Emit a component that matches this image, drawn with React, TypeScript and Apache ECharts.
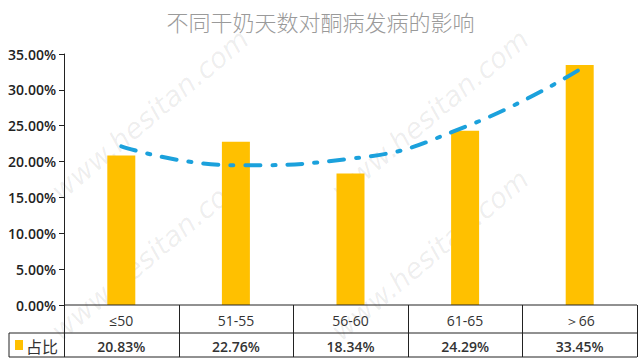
import { useEffect, useRef } from "react";
import * as echarts from "echarts";

const titleText = "不同干奶天数对酮病发病的影响";
const categories = ["≤50", "51-55", "56-60", "61-65", "＞66"];
const seriesName = "占比";
const values = [20.83, 22.76, 18.34, 24.29, 33.45];
const trendValues = [22.13, 19.48, 20.39, 24.84, 32.84];
const yMax = 35;
const yInterval = 5;
const watermark = "www.hesitan.com";

const W = 641;
const H = 364;
const GL = 64;
const GR = 637;
const GT = 54;
const GB = 305;
const ROW_MID = 333;
const ROW_BOT = 357;
const TABLE_LEFT = 9;

export default function App() {
  const ref = useRef<HTMLDivElement>(null);
  useEffect(() => {
    if (!ref.current) return;
    const chart = echarts.init(ref.current, undefined, { renderer: "svg" });
    const colW = (GR - GL) / categories.length;
    const lineStyle = { stroke: "#222", lineWidth: 1 };
    const graphics: any[] = [];
    // watermarks
    const wmPos = [
      [150, 115],
      [430, 115],
      [150, 255],
      [430, 255],
    ];
    wmPos.forEach(([x, y]) => {
      graphics.push({
        type: "text",
        x,
        y,
        rotation: Math.PI / 4.5,
        z: 0,
        silent: true,
        style: {
          text: watermark,
          fill: "rgba(0,0,0,0.07)",
          font: "italic 28px 'DejaVu Sans'",
          align: "center",
          verticalAlign: "middle",
        },
      });
    });
    // table lines
    graphics.push({ type: "line", shape: { x1: GL, y1: GB, x2: GR, y2: GB }, style: lineStyle, z: 10 });
    graphics.push({ type: "line", shape: { x1: TABLE_LEFT, y1: ROW_MID, x2: GR, y2: ROW_MID }, style: lineStyle, z: 10 });
    graphics.push({ type: "line", shape: { x1: TABLE_LEFT, y1: ROW_BOT, x2: GR, y2: ROW_BOT }, style: lineStyle, z: 10 });
    graphics.push({ type: "line", shape: { x1: TABLE_LEFT, y1: ROW_MID, x2: TABLE_LEFT, y2: ROW_BOT }, style: lineStyle, z: 10 });
    for (let i = 0; i <= categories.length; i++) {
      const x = Math.round(GL + i * colW) + 0.5;
      graphics.push({ type: "line", shape: { x1: x, y1: GB, x2: x, y2: ROW_BOT }, style: lineStyle, z: 10 });
    }
    categories.forEach((c, i) => {
      const cx = GL + (i + 0.5) * colW;
      graphics.push({
        type: "text",
        x: cx,
        y: (GB + ROW_MID) / 2 + 1,
        z: 10,
        style: { text: c, fill: "#333", font: "14px 'Open Sans'", align: "center", verticalAlign: "middle" },
      });
      graphics.push({
        type: "text",
        x: cx,
        y: (ROW_MID + ROW_BOT) / 2 + 1,
        z: 10,
        style: {
          text: values[i].toFixed(2) + "%",
          fill: "#333",
          font: "600 14px 'Open Sans'",
          align: "center",
          verticalAlign: "middle",
        },
      });
    });
    graphics.push({
      type: "rect",
      shape: { x: 15, y: 340, width: 8, height: 10 },
      style: { fill: "#FFC000" },
      z: 10,
    });
    graphics.push({
      type: "text",
      x: 26,
      y: (ROW_MID + ROW_BOT) / 2 + 1,
      z: 10,
      style: { text: seriesName, fill: "#333", font: "16px 'Noto Sans CJK SC'", align: "left", verticalAlign: "middle" },
    });

    chart.setOption({
      animation: false,
      backgroundColor: "#fff",
      title: {
        text: titleText,
        left: "center",
        top: 5,
        textStyle: {
          fontSize: 22,
          fontWeight: 300,
          color: "#9a9a9a",
          fontFamily: "'Noto Sans CJK SC'",
        },
      },
      grid: { left: GL, right: W - GR, top: GT, bottom: H - GB },
      xAxis: {
        type: "category",
        data: categories,
        axisLine: { show: false },
        axisTick: { show: false },
        axisLabel: { show: false },
      },
      yAxis: {
        type: "value",
        min: 0,
        max: yMax,
        interval: yInterval,
        axisLine: { show: true, lineStyle: { color: "#222" } },
        axisTick: { show: true, length: 5, lineStyle: { color: "#222" } },
        splitLine: { show: false },
        axisLabel: {
          formatter: (v: number) => v.toFixed(2) + "%",
          color: "#222",
          fontSize: 14,
          fontWeight: 600,
          fontFamily: "'Open Sans'",
          margin: 8,
        },
      },
      series: [
        {
          name: seriesName,
          type: "bar",
          data: values,
          barWidth: 28,
          itemStyle: { color: "#FFC000" },
          z: 2,
        },
        {
          name: "trend",
          type: "line",
          data: trendValues,
          smooth: 0.5,
          showSymbol: false,
          symbol: "none",
          lineStyle: { color: "#1BA1DC", width: 4, type: [15, 12, 3, 12], cap: "round" },
          z: 3,
        },
      ],
      graphic: graphics,
    });
    return () => chart.dispose();
  }, []);
  return <div ref={ref} style={{ position: "fixed", left: 0, top: 0, width: W, height: H }} />;
}
